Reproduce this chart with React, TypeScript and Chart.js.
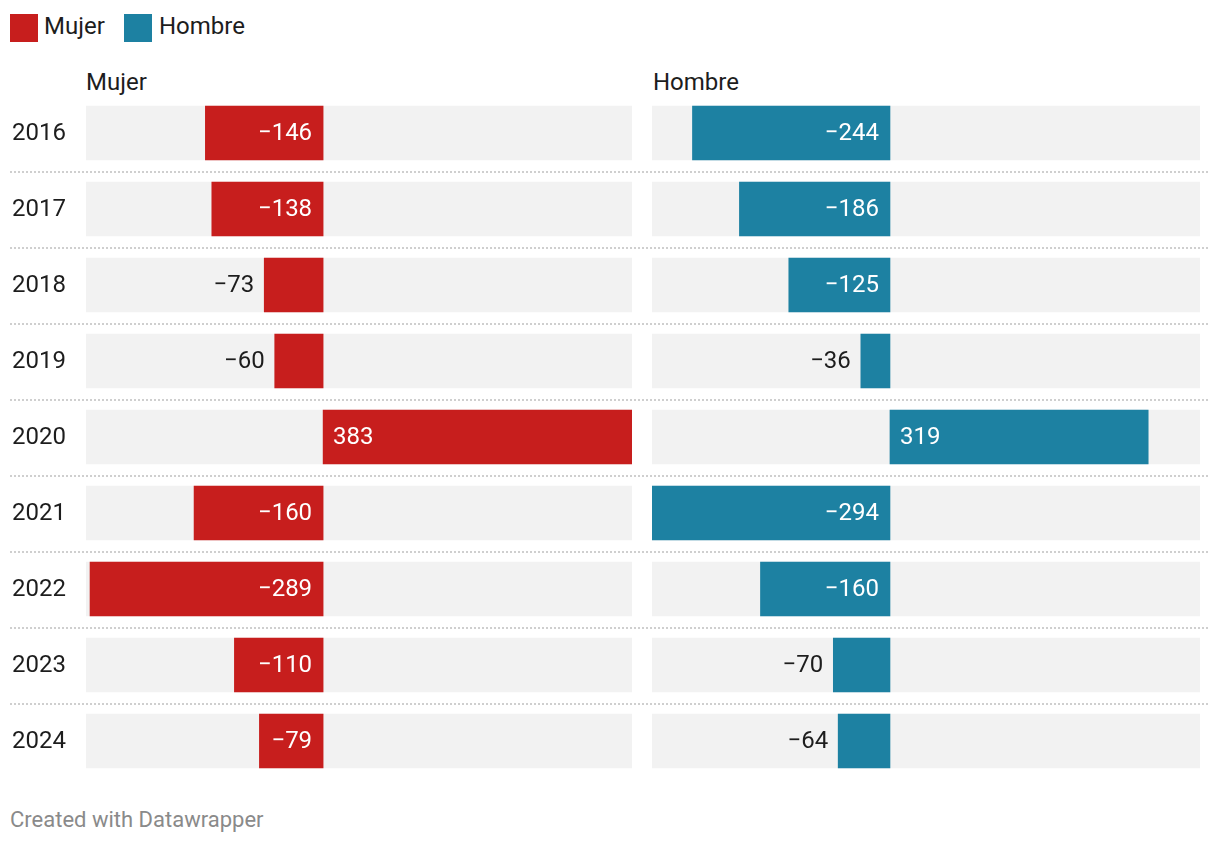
import React, { useEffect, useRef } from "react";
import { Chart, registerables } from "chart.js";

Chart.register(...registerables);

const years = ["2016", "2017", "2018", "2019", "2020", "2021", "2022", "2023", "2024"];
const mujer = [-146, -138, -73, -60, 383, -160, -289, -110, -79];
const hombre = [-244, -186, -125, -36, 319, -294, -160, -70, -64];

const RED = "#c71e1d";
const TEAL = "#1d81a2";
const BG = "#f2f2f2";
const TEXT = "#1d1d1d";
const FONT = "Roboto, 'Noto Sans', sans-serif";

const allVals = [...mujer, ...hombre];
const xMin = Math.min(...allVals);
const xMax = Math.max(...allVals);

const fmt = (v: number) => (v < 0 ? "\u2212" + Math.abs(v) : String(v));

const valueLabels = {
  id: "valueLabels",
  afterDatasetsDraw(chart: any, _args: any, opts: any) {
    const ctx = chart.ctx;
    const meta = chart.getDatasetMeta(1);
    const ds = chart.data.datasets[1];
    ctx.save();
    ctx.font = `24px ${FONT}`;
    ctx.textBaseline = "middle";
    meta.data.forEach((el: any, i: number) => {
      const v = ds.data[i] as number;
      const txt = fmt(v);
      const w = ctx.measureText(txt).width;
      const barW = Math.abs(el.x - el.base);
      const inside = w + 20 <= barW;
      const y = el.y + 1;
      if (v < 0) {
        ctx.textAlign = "right";
        if (inside) {
          ctx.fillStyle = "#ffffff";
          ctx.fillText(txt, el.base - 11, y);
        } else {
          ctx.fillStyle = TEXT;
          ctx.fillText(txt, el.x - 10, y);
        }
      } else {
        ctx.textAlign = "left";
        if (inside) {
          ctx.fillStyle = "#ffffff";
          ctx.fillText(txt, el.base + 10, y);
        } else {
          ctx.fillStyle = TEXT;
          ctx.fillText(txt, el.x + 10, y);
        }
      }
    });
    if (opts && opts.showYears) {
      const ys = chart.scales.y;
      ctx.fillStyle = TEXT;
      ctx.textAlign = "left";
      chart.data.labels.forEach((lab: string, i: number) => {
        ctx.fillText(lab, 12, ys.getPixelForValue(i) + 1);
      });
    }
    ctx.restore();
  },
};

function Panel(props: { values: number[]; color: string; showYears: boolean; width: number; height: number; padLeft: number }) {
  const ref = useRef<HTMLCanvasElement | null>(null);
  useEffect(() => {
    if (!ref.current) return;
    const chart = new Chart(ref.current, {
      type: "bar",
      data: {
        labels: years,
        datasets: [
          {
            label: "bg",
            data: years.map(() => [xMin, xMax]) as any,
            backgroundColor: BG,
            grouped: false,
            order: 2,
            barThickness: 54,
          } as any,
          {
            label: "val",
            data: props.values,
            backgroundColor: props.color,
            grouped: false,
            order: 1,
            barThickness: 54,
          } as any,
        ],
      },
      options: {
        indexAxis: "y",
        animation: false,
        responsive: false,
        maintainAspectRatio: false,
        devicePixelRatio: 1,
        layout: { padding: { left: props.padLeft, right: 0, top: 0, bottom: 0 } },
        plugins: {
          legend: { display: false },
          tooltip: { enabled: false },
          valueLabels: { showYears: props.showYears },
        } as any,
        scales: {
          x: { display: false, min: xMin, max: xMax },
          y: { display: false },
        },
      } as any,
      plugins: [valueLabels],
    });
    return () => chart.destroy();
  }, []);
  return <canvas ref={ref} width={props.width} height={props.height} style={{ display: "block", width: props.width, height: props.height }} />;
}

export default function App() {
  const top = 95;
  const band = 76;
  const seps = years.slice(1).map((_, i) => top + band * (i + 1));
  return (
    <div
      style={{
        position: "fixed",
        left: 0,
        top: 0,
        width: 1220,
        height: 846,
        background: "#fff",
        fontFamily: FONT,
        color: TEXT,
        overflow: "hidden",
      }}
    >
      {/* legend */}
      <div style={{ position: "absolute", left: 10, top: 14, width: 28, height: 28, background: RED }} />
      <div style={{ position: "absolute", left: 44, top: 9, fontSize: 24, lineHeight: "34px" }}>Mujer</div>
      <div style={{ position: "absolute", left: 124, top: 14, width: 28, height: 28, background: TEAL }} />
      <div style={{ position: "absolute", left: 159, top: 9, fontSize: 24, lineHeight: "34px" }}>Hombre</div>

      {/* panel titles */}
      <div style={{ position: "absolute", left: 86, top: 65, fontSize: 24, lineHeight: "34px" }}>Mujer</div>
      <div style={{ position: "absolute", left: 653, top: 65, fontSize: 24, lineHeight: "34px" }}>Hombre</div>

      {/* separators */}
      {seps.map((y) => (
        <div
          key={y}
          style={{
            position: "absolute",
            left: 10,
            top: y,
            width: 1198,
            height: 2,
            background: "repeating-linear-gradient(to right, #cfcfcf 0 2px, transparent 2px 4px)",
          }}
        />
      ))}

      <div style={{ position: "absolute", left: 0, top: top }}>
        <Panel values={mujer} color={RED} showYears={true} width={632} height={band * years.length} padLeft={86} />
      </div>
      <div style={{ position: "absolute", left: 652, top: top }}>
        <Panel values={hombre} color={TEAL} showYears={false} width={548} height={band * years.length} padLeft={0} />
      </div>

      <div style={{ position: "absolute", left: 10, top: 805, fontSize: 22, lineHeight: "30px", color: "#8a8a8a" }}>
        Created with Datawrapper
      </div>
    </div>
  );
}
